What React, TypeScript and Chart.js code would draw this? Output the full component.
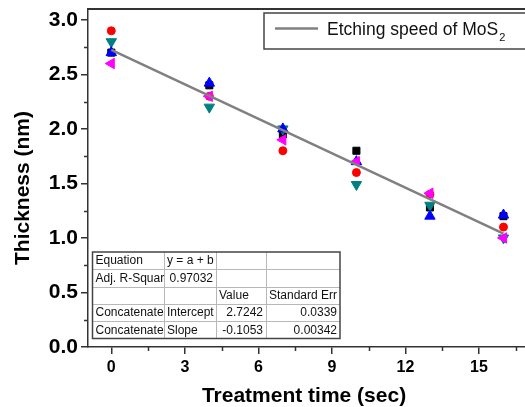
import React, { useEffect, useRef } from "react";
import { Chart, registerables } from "chart.js";

Chart.register(...registerables);

// ---- data ----
const treatmentTimes = [0, 4, 7, 10, 13, 16];
const blackSquares = [2.7, 2.4, 1.95, 1.8, 1.28, 1.2];
const redCircles = [2.9, 2.3, 1.8, 1.6, 1.4, 1.1];
const tealDown = [2.8, 2.2, 2.0, 1.49, 1.3, 1.0];
const blueUp = [2.7, 2.42, 2.0, 1.7, 1.2, 1.21];
const magentaLeft = [2.6, 2.3, 1.9, 1.7, 1.41, 1.0];
const fitX = [0, 16];
const fitY = [2.7242, 1.0394];

const xTicks = [0, 3, 6, 9, 12, 15];
const xMinorTicks = [1.5, 4.5, 7.5, 10.5, 13.5, 16.5];
const yTicks = [0, 0.5, 1.0, 1.5, 2.0, 2.5, 3.0];
const yMinorTicks = [0.25, 0.75, 1.25, 1.75, 2.25, 2.75];

const xTitle = "Treatment time (sec)";
const yTitle = "Thickness (nm)";
const legendText = "Etching speed of MoS";
const legendSub = "2";

const tableRows = [
  ["Equation", "y = a + b", "", ""],
  ["Adj. R-Squar", "0.97032", "", ""],
  ["", "", "Value", "Standard Err"],
  ["Concatenate", "Intercept", "2.7242", "0.0339"],
  ["Concatenate", "Slope", "-0.1053", "0.00342"],
];

const FONT = "Arial, 'Liberation Sans', sans-serif";
const AXIS = "#333333";

const decorPlugin = {
  id: "decor",
  afterDraw(chart: any) {
    const { ctx, chartArea: ca, scales } = chart;
    const x = scales.x;
    const y = scales.y;
    ctx.save();

    // top frame
    ctx.strokeStyle = AXIS;
    ctx.lineWidth = 2;
    ctx.beginPath();
    ctx.moveTo(ca.left - 1, ca.top);
    ctx.lineTo(ca.right + 1, ca.top);
    ctx.moveTo(ca.right, ca.top);
    ctx.lineTo(ca.right, ca.bottom);
    ctx.stroke();

    // minor ticks
    ctx.lineWidth = 1.5;
    ctx.beginPath();
    xMinorTicks.forEach((v) => {
      const px = Math.round(x.getPixelForValue(v)) + 0.5;
      ctx.moveTo(px, ca.bottom);
      ctx.lineTo(px, ca.bottom + 4);
    });
    yMinorTicks.forEach((v) => {
      const py = Math.round(y.getPixelForValue(v)) + 0.5;
      ctx.moveTo(ca.left, py);
      ctx.lineTo(ca.left - 4, py);
    });
    ctx.stroke();

    // axis titles
    ctx.fillStyle = "#000";
    ctx.font = `bold 21px ${FONT}`;
    ctx.textAlign = "center";
    ctx.textBaseline = "middle";
    ctx.fillText(xTitle, ca.left + 216, ca.bottom + 49);
    ctx.save();
    ctx.translate(ca.left - 65, 188);
    ctx.rotate(-Math.PI / 2);
    ctx.fillText(yTitle, 0, 0);
    ctx.restore();

    // legend box
    const lx = ca.left + 176;
    const ly = ca.top + 4;
    ctx.fillStyle = "#fff";
    ctx.fillRect(lx, ly, 300, 36);
    ctx.strokeStyle = "#444";
    ctx.lineWidth = 1.5;
    ctx.strokeRect(lx, ly, 300, 36);
    ctx.strokeStyle = "#808080";
    ctx.lineWidth = 2.5;
    ctx.beginPath();
    ctx.moveTo(lx + 11, ly + 15.5);
    ctx.lineTo(lx + 54, ly + 15.5);
    ctx.stroke();
    ctx.fillStyle = "#111";
    ctx.textAlign = "left";
    ctx.textBaseline = "alphabetic";
    ctx.font = `17.5px ${FONT}`;
    ctx.fillText(legendText, lx + 63, ly + 22);
    const tw = ctx.measureText(legendText).width;
    ctx.font = `11px ${FONT}`;
    ctx.fillText(legendSub, lx + 63 + tw + 1, ly + 28);

    // fit table
    const colX = [ca.left + 4.5, ca.left + 76, ca.left + 128, ca.left + 178, ca.left + 252];
    const tTop = ca.bottom - 95;
    const rowH = 17.3;
    const rowY = [0, 1, 2, 3, 4, 5].map((i) => tTop + i * rowH);
    ctx.fillStyle = "#fff";
    ctx.fillRect(colX[0], rowY[0], colX[4] - colX[0], rowY[5] - rowY[0]);
    ctx.strokeStyle = "#b8b8b8";
    ctx.lineWidth = 1;
    ctx.beginPath();
    for (let i = 1; i < 5; i++) {
      ctx.moveTo(colX[0], Math.round(rowY[i]) + 0.5);
      ctx.lineTo(colX[4], Math.round(rowY[i]) + 0.5);
    }
    for (let j = 1; j < 4; j++) {
      ctx.moveTo(Math.round(colX[j]) + 0.5, rowY[0]);
      ctx.lineTo(Math.round(colX[j]) + 0.5, rowY[5]);
    }
    ctx.stroke();
    ctx.strokeStyle = "#444";
    ctx.lineWidth = 1.5;
    ctx.strokeRect(colX[0], rowY[0], colX[4] - colX[0], rowY[5] - rowY[0]);

    ctx.font = `12px ${FONT}`;
    ctx.fillStyle = "#111";
    ctx.textBaseline = "middle";
    tableRows.forEach((row, i) => {
      row.forEach((cell, j) => {
        if (!cell) return;
        const numeric = /^-?[0-9.]+$/.test(cell);
        const cy = (rowY[i] + rowY[i + 1]) / 2 + 0.5;
        if (numeric) {
          ctx.textAlign = "right";
          ctx.fillText(cell, colX[j + 1] - 3, cy);
        } else {
          ctx.textAlign = "left";
          ctx.fillText(cell, colX[j] + 3, cy);
        }
      });
    });

    ctx.restore();
  },
};

function pts(vals: number[]) {
  return treatmentTimes.map((t, i) => ({ x: t, y: vals[i] }));
}

export default function App() {
  const ref = useRef<HTMLCanvasElement>(null);
  useEffect(() => {
    const canvas = ref.current!;
    const mk = (label: string, vals: number[], color: string, style: string, r: number, rot: number, order: number) => ({
      label,
      data: pts(vals),
      showLine: false,
      pointStyle: style,
      pointRadius: r,
      pointRotation: rot,
      backgroundColor: color,
      borderColor: color,
      borderWidth: 1,
      order,
    });
    const chart = new Chart(canvas, {
      type: "scatter",
      data: {
        datasets: [
          {
            label: "fit",
            data: fitX.map((v, i) => ({ x: v, y: fitY[i] })),
            showLine: true,
            borderColor: "#808080",
            backgroundColor: "#808080",
            borderWidth: 2.5,
            pointRadius: 0,
            order: 0,
          } as any,
          mk("s1", blackSquares, "#000000", "rect", 5, 0, 5),
          mk("s2", redCircles, "#ff0000", "circle", 4, 0, 4),
          mk("s3", tealDown, "#008080", "triangle", 6, 180, 3),
          mk("s4", blueUp, "#0000ff", "triangle", 6, 0, 2),
          mk("s5", magentaLeft, "#ff00ff", "triangle", 6, 270, 1),
        ],
      },
      plugins: [decorPlugin],
      options: {
        responsive: false,
        animation: false,
        devicePixelRatio: 1,
        layout: { padding: { left: 0, right: 4, top: 9, bottom: 0 } },
        plugins: { legend: { display: false }, tooltip: { enabled: false } },
        scales: {
          x: {
            type: "linear",
            min: -0.95,
            max: 17,
            afterBuildTicks: (s: any) => {
              s.ticks = xTicks.map((v) => ({ value: v }));
            },
            afterFit: (s: any) => {
              s.height = 60;
              s.paddingLeft = 0;
              s.paddingRight = 0;
            },
            ticks: {
              color: "#000",
              font: { family: FONT, size: 16, weight: "bold" },
              padding: 4,
              maxRotation: 0,
              autoSkip: false,
            },
            grid: { drawOnChartArea: false, drawTicks: true, tickLength: 7, color: AXIS, lineWidth: 1.5 },
            border: { color: AXIS, width: 1.5 },
          },
          y: {
            type: "linear",
            min: 0,
            max: 3.1,
            afterBuildTicks: (s: any) => {
              s.ticks = yTicks.map((v) => ({ value: v }));
            },
            afterFit: (s: any) => {
              s.width = 88;
              s.paddingTop = 0;
              s.paddingBottom = 0;
            },
            ticks: {
              color: "#000",
              font: { family: FONT, size: 21, weight: "bold" },
              padding: 3,
              autoSkip: false,
              callback: (v: any) => Number(v).toFixed(1),
            },
            grid: { drawOnChartArea: false, drawTicks: true, tickLength: 7, color: AXIS, lineWidth: 1.5 },
            border: { color: AXIS, width: 1.5 },
          },
        },
      } as any,
    });
    return () => chart.destroy();
  }, []);
  return (
    <div style={{ position: "absolute", left: 0, top: 0, width: 525, height: 407, overflow: "hidden", background: "#fff" }}>
      <canvas ref={ref} width={535} height={407} style={{ width: 535, height: 407, display: "block" }} />
    </div>
  );
}
